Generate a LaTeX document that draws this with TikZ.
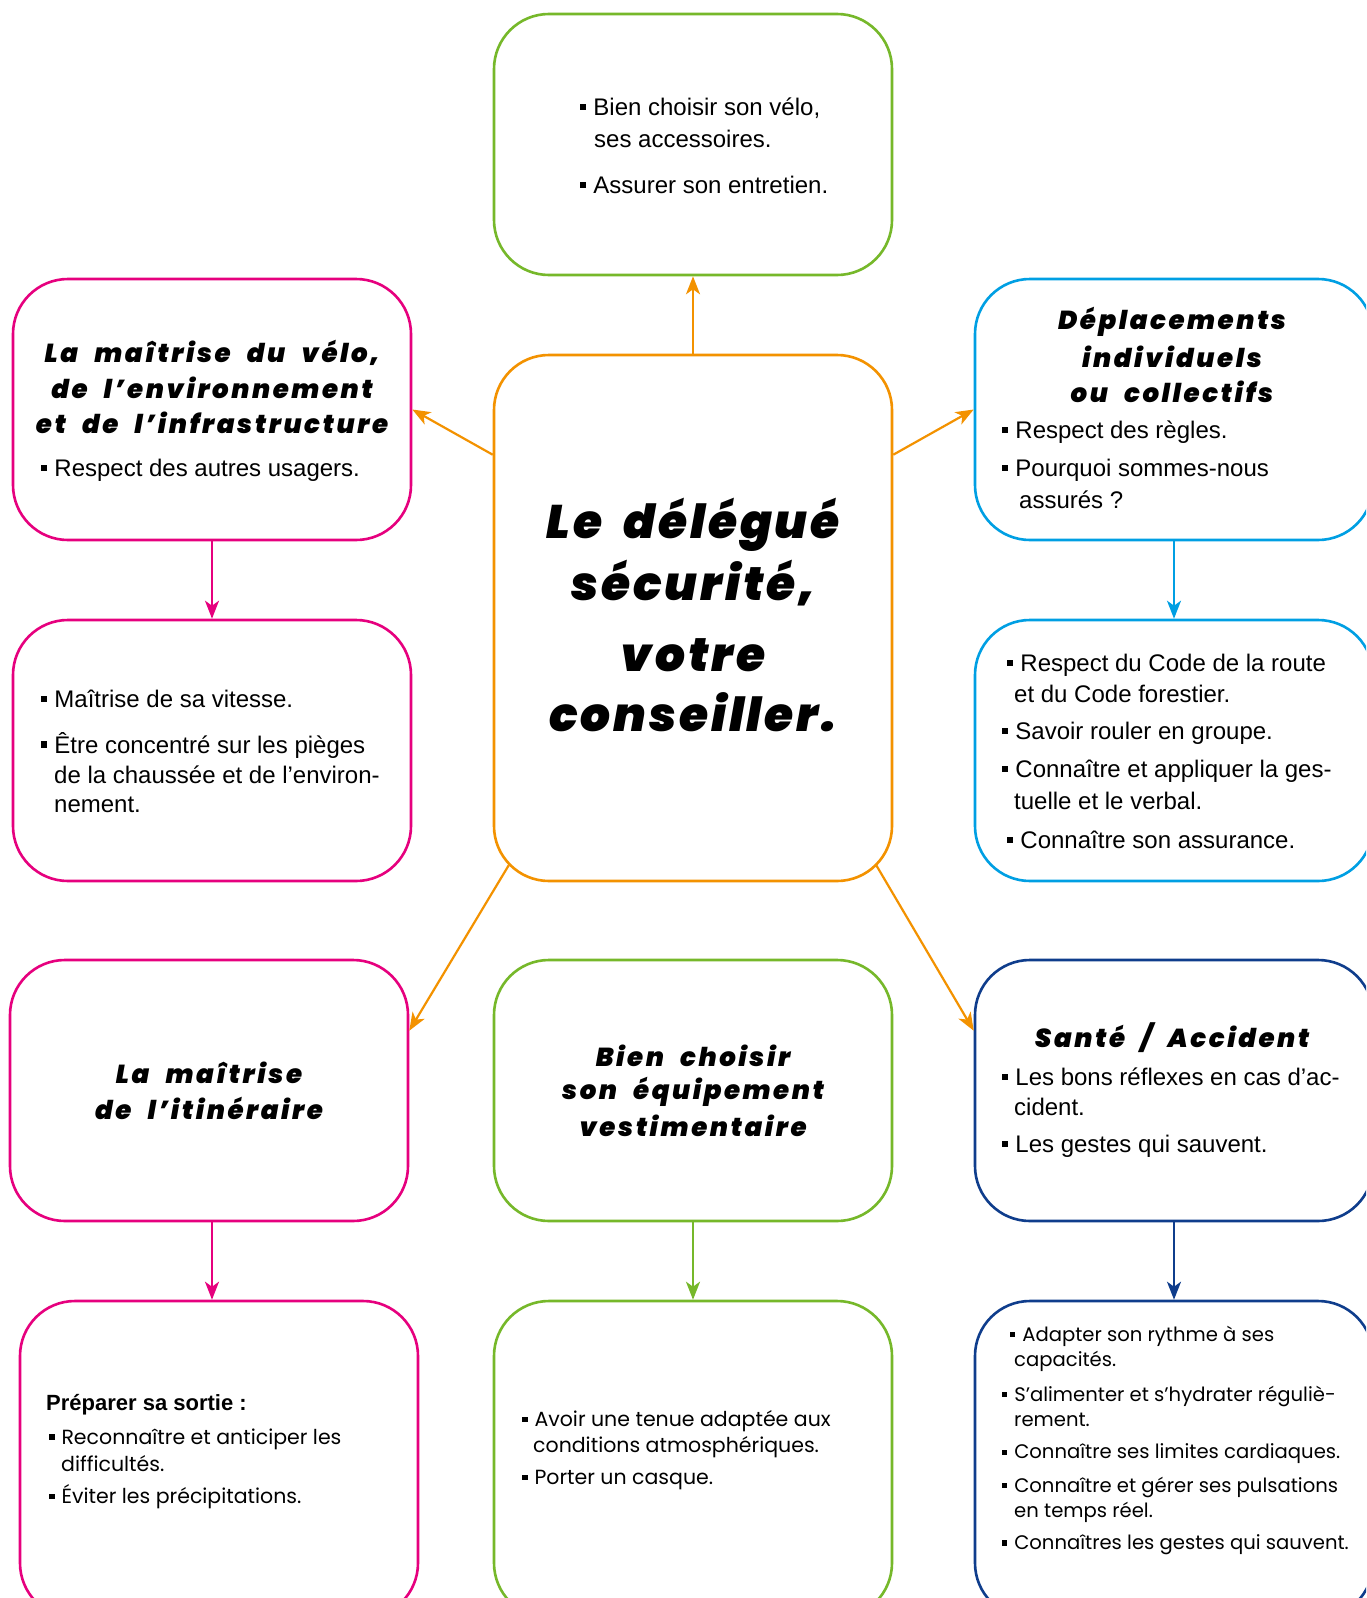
\documentclass[tikz,border=0pt]{standalone}
\usepackage{fontspec}
\setmainfont{Liberation Sans}
\newfontfamily\headfont[LetterSpace=10,WordSpace=2.3,BoldItalicFont={Poppins Black Italic}]{Poppins}
\newfontfamily\centfont[LetterSpace=6,WordSpace=2.0,BoldItalicFont={Poppins Black Italic}]{Poppins}
\newfontfamily\geofont{Poppins}
\usetikzlibrary{arrows.meta}
\definecolor{cOrange}{HTML}{F39200}
\definecolor{cGreen}{HTML}{76B82A}
\definecolor{cMagenta}{HTML}{E6007E}
\definecolor{cCyan}{HTML}{009FE3}
\definecolor{cNavy}{HTML}{0F3D8C}
\newcommand\bsq{\raisebox{0.22em}{\rule{0.26em}{0.26em}}\hskip7pt}
\tikzset{
 box/.style={draw=#1, line width=2.6pt, rounded corners=55pt, minimum width=398pt, inner sep=0pt, rectangle},
 arr/.style={draw=#1, line width=2.2pt, -{Stealth[length=18pt,width=14pt,inset=5pt]}},
 bt/.style={anchor=west, inner sep=0pt, font=\fontsize{24}{28}\selectfont},
 gt/.style={anchor=west, inner sep=0pt, font=\geofont\fontsize{20.5}{24}\selectfont},
 gs/.style={anchor=west, inner sep=0pt, font=\geofont\fontsize{19.6}{23}\selectfont},
 ht/.style={anchor=center, inner sep=0pt, font=\headfont\bfseries\itshape\fontsize{26}{30}\selectfont},
 ct/.style={anchor=center, inner sep=0pt, font=\centfont\bfseries\itshape\fontsize{47}{54}\selectfont},
}
\begin{document}
\begin{tikzpicture}[x=1pt,y=-1pt]
\useasboundingbox (0,0) rectangle (1366,1598);
\clip (0,0) rectangle (1366,1598);
\fill[white] (0,0) rectangle (1366,1598);
% boxes
\node[box=cGreen, minimum height=261pt] (T) at (693,144.5) {};
\node[box=cOrange, minimum height=526pt] (C) at (693,618) {};
\node[box=cMagenta, minimum height=261pt] (L1) at (212,409.5) {};
\node[box=cCyan, minimum height=261pt] (R1) at (1174,409.5) {};
\node[box=cMagenta, minimum height=261pt] (L2) at (212,750.5) {};
\node[box=cCyan, minimum height=261pt] (R2) at (1174,750.5) {};
\node[box=cMagenta, minimum height=261pt] (L3) at (209,1090.5) {};
\node[box=cGreen, minimum height=261pt] (M3) at (693,1090.5) {};
\node[box=cNavy, minimum height=261pt] (R3) at (1174,1090.5) {};
\node[box=cMagenta, minimum height=317pt] (L4) at (219,1459.5) {};
\node[box=cGreen, minimum height=317pt] (M4) at (693,1459.5) {};
\node[box=cNavy, minimum height=317pt] (R4) at (1174,1459.5) {};
% arrows
\draw[arr=cOrange] (C.north) -- (T.south);
\draw[arr=cOrange] ([yshift=-101pt]C.north west) -- (L1.east);
\draw[arr=cOrange] ([yshift=-101pt]C.north east) -- (R1.west);
\draw[arr=cOrange] ([xshift=16pt,yshift=17pt]C.south west) -- ([yshift=-72pt]L3.north east);
\draw[arr=cOrange] ([xshift=-17pt,yshift=17pt]C.south east) -- ([yshift=-72pt]R3.north west);
\draw[arr=cMagenta] (L1.south) -- (L2.north);
\draw[arr=cCyan] (R1.south) -- (R2.north);
\draw[arr=cMagenta] ([xshift=3pt]L3.south) -- ([xshift=3pt]L3.south |- L4.north);
\draw[arr=cGreen] (M3.south) -- (M4.north);
\draw[arr=cNavy] (R3.south) -- (R4.north);
% top box text
\node[bt] (t1) at (580,108) {\bsq Bien choisir son vélo,};
\node[bt] (t2) at (594,139) {ses accessoires.};
\node[bt] (t3) at (580,185) {\bsq Assurer son entretien.};
% center
\node[ct] (c1) at (693,525) {Le délégué};
\node[ct] (c2) at (693,583) {sécurité,};
\node[ct] (c3) at (693,655) {votre};
\node[ct] (c4) at (693,712) {conseiller.};
% L1
\node[ht] (l1a) at (212,353) {La maîtrise du vélo,};
\node[ht] (l1b) at (212,388) {de l’environnement};
\node[ht] (l1c) at (212,423) {et de l’infrastructure};
\node[bt] (l1d) at (41,470) {\bsq Respect des autres usagers.};
% R1
\node[ht] (r1a) at (1172,322) {Déplacements};
\node[ht] (r1b) at (1172,357) {individuels};
\node[ht] (r1c) at (1172,392) {ou collectifs};
\node[bt] (r1d) at (1002,432) {\bsq Respect des règles.};
\node[bt] (r1e) at (1002,470) {\bsq Pourquoi sommes-nous};
\node[bt] (r1f) at (1019,500) {assurés ?};
% L2
\node[bt] (l2a) at (41,699) {\bsq Maîtrise de sa vitesse.};
\node[bt] (l2b) at (41,745) {\bsq Être concentré sur les pièges};
\node[bt] (l2c) at (54,775) {de la chaussée et de l’environ-};
\node[bt] (l2d) at (54,805) {nement.};
% R2
\node[bt] (r2a) at (1007,665) {\bsq Respect du Code de la route};
\node[bt] (r2b) at (1014,694) {et du Code forestier.};
\node[bt] (r2c) at (1002,733) {\bsq Savoir rouler en groupe.};
\node[bt] (r2d) at (1002,771) {\bsq Connaître et appliquer la ges-};
\node[bt] (r2e) at (1014,801) {tuelle et le verbal.};
\node[bt] (r2f) at (1007,840) {\bsq Connaître son assurance.};
% L3
\node[ht] (l3a) at (209,1073) {La maîtrise};
\node[ht] (l3b) at (209,1108) {de l’itinéraire};
% M3
\node[ht] (m3a) at (693,1056) {Bien choisir};
\node[ht] (m3b) at (693,1092) {son équipement};
\node[ht] (m3c) at (693,1126) {vestimentaire};
% R3
\node[ht] (r3a) at (1172,1038) {Santé / Accident};
\node[bt] (r3b) at (1002,1077) {\bsq Les bons réflexes en cas d’ac-};
\node[bt] (r3c) at (1014,1107) {cident.};
\node[bt] (r3d) at (1002,1146) {\bsq Les gestes qui sauvent.};
% L4
\node[anchor=west, inner sep=0pt, font=\bfseries\fontsize{22}{26}\selectfont] (l4a) at (46,1405) {Préparer sa sortie :};
\node[gt] (l4b) at (49,1439) {\bsq Reconnaître et anticiper les};
\node[gt] (l4c) at (61,1464) {difficultés.};
\node[gt] (l4d) at (49,1497) {\bsq Éviter les précipitations.};
% M4
\node[gt] (m4a) at (522,1421) {\bsq Avoir une tenue adaptée aux};
\node[gt] (m4b) at (533,1447) {conditions atmosphériques.};
\node[gt] (m4c) at (522,1480) {\bsq Porter un casque.};
% R4
\node[gs] (r4a) at (1010,1336) {\bsq Adapter son rythme à ses};
\node[gs] (r4b) at (1014,1361) {capacités.};
\node[gs] (r4c) at (1002,1396) {\bsq S’alimenter et s’hydrater réguliè-};
\node[gs] (r4d) at (1014,1420) {rement.};
\node[gs] (r4e) at (1002,1454) {\bsq Connaître ses limites cardiaques.};
\node[gs] (r4f) at (1002,1487) {\bsq Connaître et gérer ses pulsations};
\node[gs] (r4g) at (1014,1512) {en temps réel.};
\node[gs] (r4h) at (1002,1545) {\bsq Connaîtres les gestes qui sauvent.};
\end{tikzpicture}
\end{document}
